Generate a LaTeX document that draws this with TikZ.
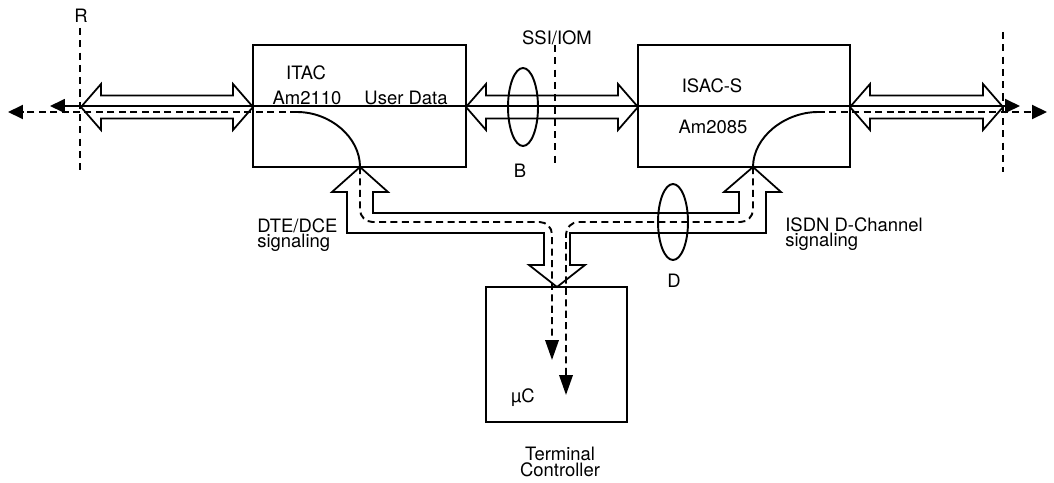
\documentclass[tikz,border=0pt]{standalone}
\usepackage{fontspec}
\setmainfont{TeX Gyre Heros}
\usetikzlibrary{arrows.meta}
\tikzset{
  blk/.style={draw,line width=1pt,inner sep=0pt},
  lbl/.style={inner sep=0pt,font=\fontsize{10.5}{9}\selectfont},
  sig/.style={dash pattern=on 4pt off 2.5pt,line width=1.1pt},
  cut/.style={dash pattern=on 4pt off 3pt,line width=1.1pt},
  tipH/.style={-{Triangle[length=0.3cm,width=0.28cm]}},
  tipV/.style={-{Triangle[length=0.4cm,width=0.27cm]}},
}
% outlined double arrow from x=#1 to x=#2 at height #3
\newcommand\dblarrow[3]{%
  \draw[line width=1pt] (#1,#3) -- (#1+20,#3-23) -- (#1+20,#3-11.5) -- (#2-20,#3-11.5)
    -- (#2-20,#3-23) -- (#2,#3) -- (#2-20,#3+23) -- (#2-20,#3+11.5)
    -- (#1+20,#3+11.5) -- (#1+20,#3+23) -- cycle;}
\begin{document}
\begin{tikzpicture}[x=0.02cm,y=-0.02cm]
\useasboundingbox (0,0) rectangle (1054,483);
\node[blk,minimum width=4.26cm,minimum height=2.44cm] (itac) at (359.5,106) {};
\node[blk,minimum width=4.24cm,minimum height=2.44cm] (isac) at (744,106) {};
\node[blk,minimum width=2.82cm,minimum height=2.7cm] (tc) at (556.5,354.5) {};
\coordinate (lsol) at (50,106);
\coordinate (rsol) at (1020,106);
\coordinate (ldash) at (8,112);
\coordinate (rdash) at (1047,112);
\coordinate (itacbend) at (297,112);
\coordinate (isacbend) at (818,112);
\coordinate (itacup) at (360,167);
\coordinate (isacup) at (753,167);
\coordinate (tcl) at (552,360);
\coordinate (tcr) at (566,395);
\dblarrow{81}{253}{107}
\dblarrow{466}{638}{107}
\dblarrow{850}{1003}{107}
\draw[line width=1pt,{Triangle[length=0.3cm,width=0.28cm]}-{Triangle[length=0.3cm,width=0.28cm]}] (lsol) -- (rsol);
\draw[sig,tipH] (itacbend) -- (ldash);
\draw[sig,tipH] (isacbend) -- (rdash);
\draw[line width=1.1pt] (itacbend) .. controls (330,112) and (360,137) .. (itacup);
\draw[line width=1.1pt] (isacup) .. controls (753,137) and (785,112) .. (isacbend);
\draw[line width=1pt] (itacup) -- (388,192) -- (373,192) -- (373,213) -- (739,213) -- (739,192)
  -- (724,192) -- (isacup) -- (781,192) -- (766,192) -- (766,233) -- (570,233) -- (570,265)
  -- (585,265) -- (557,287) -- (529,265) -- (544,265) -- (544,233) -- (347,233) -- (347,192)
  -- (332,192) -- cycle;
\draw[sig,tipV,rounded corners=0.25cm] (itacup) -- (360,222) -- (552,222) -- (tcl);
\draw[sig,tipV,rounded corners=0.25cm] (isacup) -- (753,222) -- (566,222) -- (tcr);
\draw[line width=1.1pt] (523,107) ellipse [x radius=0.3cm,y radius=0.78cm];
\draw[line width=1.1pt] (673,222) ellipse [x radius=0.3cm,y radius=0.76cm];
\draw[cut] (80,28) -- (80,172);
\draw[cut] (555,45) -- (555,165);
\draw[cut] (1003,32) -- (1003,172);
\node[lbl,anchor=base] at (81,23) {R};
\node[lbl,anchor=base] at (557,45) {SSI/IOM};
\node[lbl,anchor=base] at (306,80) {ITAC};
\node[lbl,anchor=base] at (307,105) {Am2110};
\node[lbl,anchor=base] at (406,105) {User Data};
\node[lbl,anchor=base] at (712,92) {ISAC-S};
\node[lbl,anchor=base] at (713,133) {Am2085};
\node[lbl,anchor=base] at (520,177) {B};
\node[lbl,anchor=base] at (674,287) {D};
\node[lbl,anchor=north west,align=left] at (257,218) {DTE/DCE\\signaling};
\node[lbl,anchor=north west,align=left] at (785,217) {ISDN D-Channel\\signaling};
\node[lbl,anchor=base] at (523,402) {µC};
\node[lbl,anchor=north,align=center] at (560,447) {Terminal\\Controller};
\end{tikzpicture}
\end{document}
